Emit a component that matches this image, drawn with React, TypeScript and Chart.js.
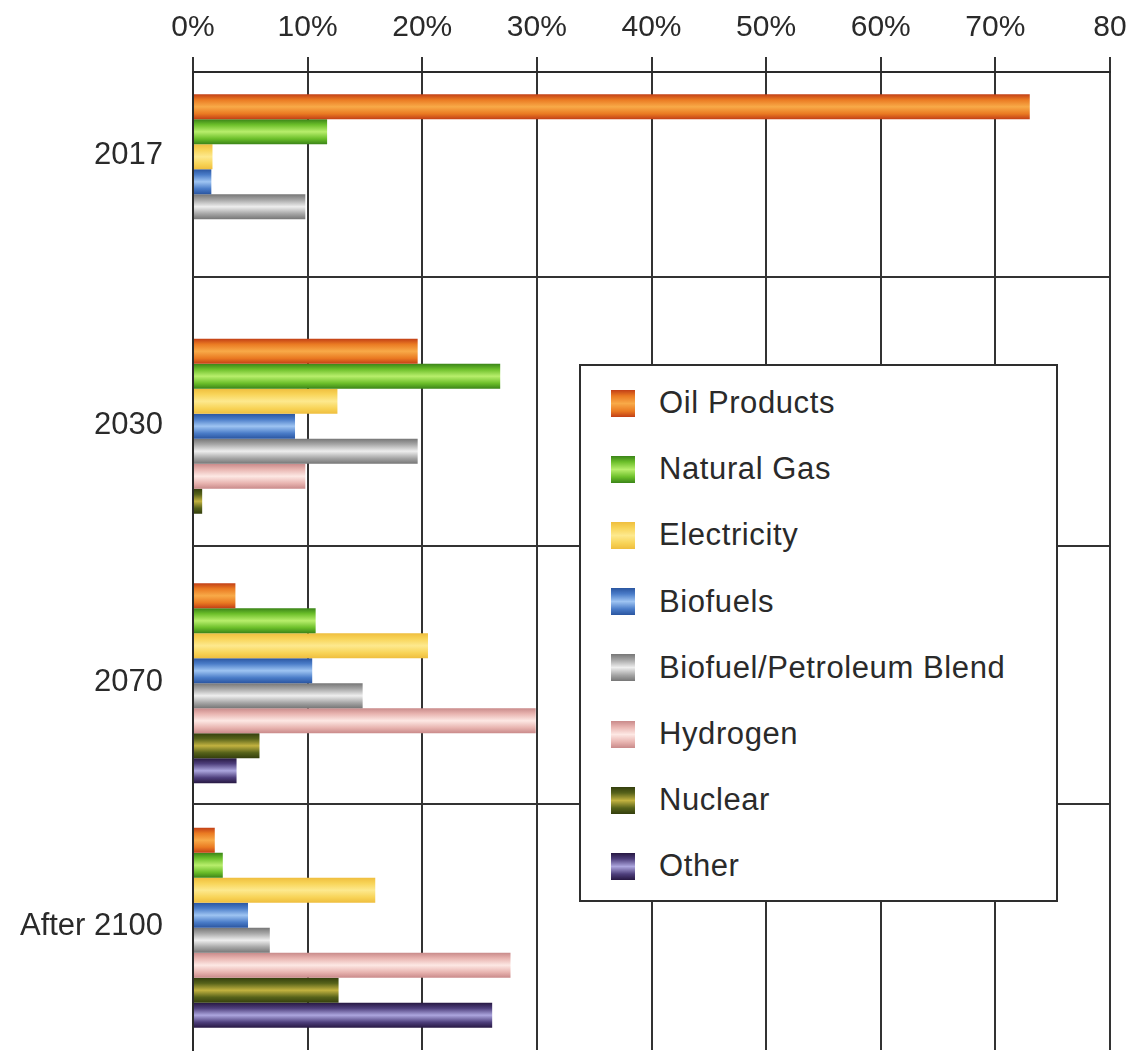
import React, { useEffect, useRef } from "react";
import { Chart, registerables } from "chart.js";

Chart.register(...registerables);

// Share of transport energy by fuel type
const categories = ["2017", "2030", "2070", "After 2100"];
const oilProducts = [73, 19.6, 3.7, 1.9];
const naturalGas = [11.7, 26.8, 10.7, 2.6];
const electricity = [1.7, 12.6, 20.5, 15.9];
const biofuels = [1.6, 8.9, 10.4, 4.8];
const petroleumBlend = [9.8, 19.6, 14.8, 6.7];
const hydrogen = [0, 9.8, 29.9, 27.7];
const nuclear = [0, 0.8, 5.8, 12.7];
const other = [0, 0, 3.8, 26.1];
const xTickLabels = ["0%", "10%", "20%", "30%", "40%", "50%", "60%", "70%", "80"];

const FONT = '"Liberation Sans", Arial, Helvetica, sans-serif';
const TEXT = "#2a2a2a";

// dark edge, body, highlight for the tube-like bars
const series = [
  { label: "Oil Products", data: oilProducts, shade: ["#c23f16", "#ea7a22", "#f8aa48"] },
  { label: "Natural Gas", data: naturalGas, shade: ["#3a8418", "#6cbf2a", "#b8ee6c"] },
  { label: "Electricity", data: electricity, shade: ["#efbe3e", "#f8d458", "#fde98e"] },
  { label: "Biofuels", data: biofuels, shade: ["#2a55a0", "#4a7cc8", "#9ec4f2"] },
  { label: "Biofuel/Petroleum Blend", data: petroleumBlend, shade: ["#767676", "#a6a6a6", "#eeeeee"] },
  { label: "Hydrogen", data: hydrogen, shade: ["#c98a8a", "#e8b4b0", "#fde8e4"] },
  { label: "Nuclear", data: nuclear, shade: ["#333e0d", "#56621a", "#c2b240"] },
  { label: "Other", data: other, shade: ["#271842", "#4e3f7c", "#aca6de"] },
];

function cssTube(shade: string[]) {
  const [d, b, l] = shade;
  return `linear-gradient(to bottom, ${d} 0%, ${b} 22%, ${l} 50%, ${b} 78%, ${d} 100%)`;
}

// Paints each bar with a vertical dark-light-dark gradient
const tubePlugin = {
  id: "tube",
  beforeDatasetsDraw(chart: any) {
    const ctx = chart.ctx;
    chart.data.datasets.forEach((ds: any, di: number) => {
      const meta = chart.getDatasetMeta(di);
      const [d, b, l] = series[di].shade;
      meta.data.forEach((el: any) => {
        const { y, height } = el.getProps(["y", "height"], true);
        const top = y - height / 2;
        const g = ctx.createLinearGradient(0, top, 0, top + height);
        g.addColorStop(0, d);
        g.addColorStop(0.22, b);
        g.addColorStop(0.5, l);
        g.addColorStop(0.78, b);
        g.addColorStop(1, d);
        el.options = Object.assign({}, el.options, { backgroundColor: g });
      });
    });
  },
};

// Extent (top, bottom) of the non-empty bars in one category
function groupExtent(chart: any, index: number) {
  let top = Infinity;
  let bottom = -Infinity;
  chart.data.datasets.forEach((ds: any, di: number) => {
    if (!ds.data[index]) return;
    const el = chart.getDatasetMeta(di).data[index];
    const { y, height } = el.getProps(["y", "height"], true);
    top = Math.min(top, y - height / 2);
    bottom = Math.max(bottom, y + height / 2);
  });
  return { top, bottom };
}

// Category labels centred on their bars, and separators between groups
const groupPlugin = {
  id: "groups",
  beforeDatasetsDraw(chart: any) {
    const { ctx, chartArea } = chart;
    ctx.save();
    ctx.strokeStyle = "#333";
    ctx.lineWidth = 1.8;
    for (let i = 0; i < categories.length - 1; i++) {
      const a = groupExtent(chart, i);
      const b = groupExtent(chart, i + 1);
      const y = Math.round((a.bottom + b.top) / 2) - 2;
      ctx.beginPath();
      ctx.moveTo(chartArea.left, y);
      ctx.lineTo(chartArea.right, y);
      ctx.stroke();
    }
    ctx.restore();
  },
  afterDraw(chart: any) {
    const { ctx, chartArea } = chart;
    ctx.save();
    ctx.font = `31px ${FONT}`;
    ctx.fillStyle = TEXT;
    ctx.textAlign = "right";
    ctx.textBaseline = "middle";
    categories.forEach((c, i) => {
      const { top, bottom } = groupExtent(chart, i);
      ctx.fillText(c, chartArea.left - 30, (top + bottom) / 2 - 1);
    });
    ctx.restore();
  },
};

export default function App() {
  const canvasRef = useRef<HTMLCanvasElement | null>(null);

  useEffect(() => {
    const canvas = canvasRef.current;
    if (!canvas) return;
    const chart = new Chart(canvas, {
      type: "bar",
      data: {
        labels: categories,
        datasets: series.map((s) => ({
          label: s.label,
          data: s.data,
          backgroundColor: s.shade[1],
          borderWidth: 0,
          categoryPercentage: 0.818,
          barPercentage: 1,
        })),
      },
      options: {
        indexAxis: "y",
        responsive: false,
        animation: false,
        layout: { padding: { top: 0, right: 16, bottom: 2, left: 0 } },
        plugins: { legend: { display: false }, tooltip: { enabled: false } },
        scales: {
          x: {
            position: "top",
            min: 0,
            max: 80,
            ticks: {
              stepSize: 10,
              font: { size: 30, family: FONT },
              color: TEXT,
              padding: 11,
              maxRotation: 0,
              callback: (_v: any, i: number) => xTickLabels[i],
            },
            grid: { color: "#333", lineWidth: 2, tickLength: 15, drawTicks: true },
            border: { color: "#2a2a2a", width: 2 },
            afterFit: (s: any) => {
              s.height = 72;
              s.paddingLeft = 0;
              s.paddingRight = 0;
            },
          },
          y: {
            grid: { display: false },
            ticks: { display: false },
            border: { color: "#2a2a2a", width: 2 },
            afterFit: (s: any) => {
              s.width = 193;
            },
          },
        },
      },
      plugins: [tubePlugin, groupPlugin],
    } as any);
    return () => chart.destroy();
  }, []);

  return (
    <div style={{ position: "absolute", left: 0, top: 0, width: 1126, height: 1052, background: "#fff" }}>
      <canvas ref={canvasRef} width={1126} height={1052} style={{ display: "block" }} />
      <div
        style={{
          position: "absolute",
          left: 579,
          top: 364,
          width: 475,
          height: 530,
          border: "2px solid #2e2e2e",
          background: "#fff",
          boxSizing: "content-box",
          paddingTop: 4,
        }}
      >
        {series.map((s) => (
          <div
            key={s.label}
            style={{ display: "flex", alignItems: "center", height: 66.2 }}
          >
            <span
              style={{
                display: "inline-block",
                width: 24,
                height: 27,
                marginLeft: 30,
                marginRight: 24,
                background: cssTube(s.shade),
              }}
            />
            <span
              style={{
                font: `31px ${FONT}`,
                letterSpacing: "0.6px",
                color: TEXT,
                whiteSpace: "nowrap",
              }}
            >
              {s.label}
            </span>
          </div>
        ))}
      </div>
    </div>
  );
}
